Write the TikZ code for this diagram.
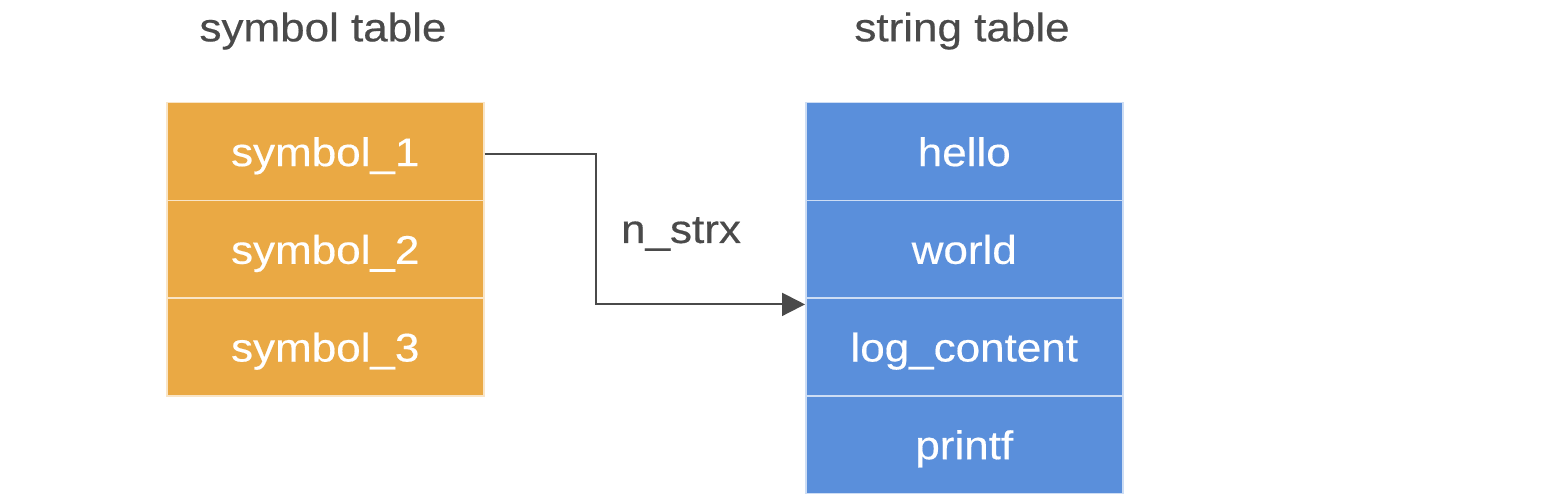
\documentclass[tikz,border=0pt]{standalone}
\usepackage{fontspec}
\setmainfont[FakeStretch=1.1,FakeBold=0.4]{Liberation Sans}
\usetikzlibrary{arrows.meta,calc}
\definecolor{symorange}{HTML}{EAA944}
\definecolor{strblue}{HTML}{5A8FDB}
\definecolor{inkgray}{HTML}{4A4A4A}
\tikzset{
  cell/.style={draw=white!70!#1, line width=1.5pt, fill=#1, minimum width=317pt, minimum height=97.7pt,
    inner sep=0pt, text height=37pt, text depth=8pt, text=white,
    font=\fontsize{40}{48}\selectfont, anchor=north west},
  title/.style={text=inkgray, font=\fontsize{40}{48}\selectfont},
  link/.style={draw=inkgray, line width=2pt, -{Triangle[length=23pt,width=23pt]}},
}
\begin{document}
\begin{tikzpicture}[x=1pt,y=-1pt]
\useasboundingbox (0,0) rectangle (1562,502);
\node[title] (symtitle) at (323,31) {symbol table};
\node[title] (strtitle) at (962,31) {string table};
\node[cell=symorange] (s1) at (166,102) {symbol\_1};
\node[cell=symorange] (s2) at (166,199.7) {symbol\_2};
\node[cell=symorange] (s3) at (166,297.4) {symbol\_3};
\node[cell=strblue] (t1) at (805,102) {hello};
\node[cell=strblue] (t2) at (805,199.7) {world};
\node[cell=strblue] (t3) at (805,297.4) {log\_content};
\node[cell=strblue] (t4) at (805,395.1) {printf};
\draw[link] ([yshift=-2pt]s1.east) -- ++(111,0) |- ([yshift=-7pt]t3.north west);
\node[title] (nstrx) at (681,234) {n\_strx};
\end{tikzpicture}
\end{document}
